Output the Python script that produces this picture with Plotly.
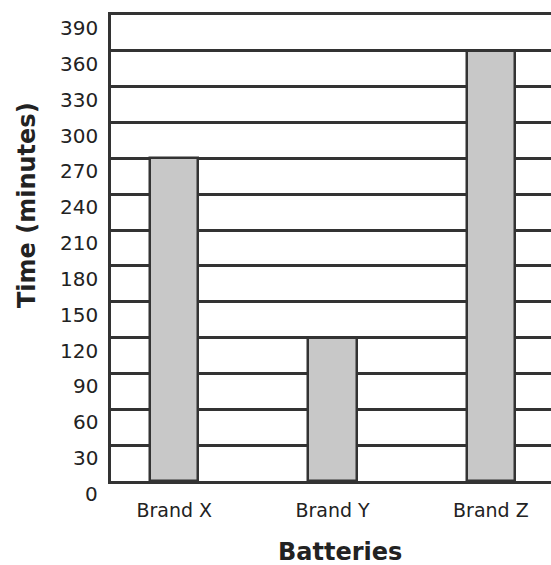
import plotly.graph_objects as go

categories = ["Brand X", "Brand Y", "Brand Z"]
values = [270, 120, 360]
y_ticks = list(range(0, 391, 30))
y_tick_labels = [str(v) for v in y_ticks]

FONT = "DejaVu Sans"
INK = "#222222"
LINE = "#333333"

W, H = 551, 565
ML, MR, MT, MB = 111, 0, 15, 84
pw = W - ML - MR
ph = H - MT - MB

fig = go.Figure()
fig.add_trace(go.Bar(
    x=categories, y=values, width=0.305,
    marker=dict(color="#c8c8c8", line=dict(color=LINE, width=2.5)),
))

ann = []
for v, lab in zip(y_ticks, y_tick_labels):
    ann.append(dict(
        x=0, xref="paper", y=v, yref="y", text=lab, showarrow=False,
        xanchor="right", yanchor="middle", xshift=-11, yshift=-13,
        font=dict(family=FONT, size=20, color=INK),
    ))
ann.append(dict(
    x=(27 - ML) / pw, xref="paper", y=(H - MB - 205) / ph, yref="paper",
    text="<b>Time (minutes)</b>", showarrow=False, textangle=-90,
    xanchor="center", yanchor="middle",
    font=dict(family=FONT, size=24, color=INK),
))
ann.append(dict(
    x=(340 - ML) / pw, xref="paper", y=-(552 - (H - MB)) / ph, yref="paper",
    text="<b>Batteries</b>", showarrow=False,
    xanchor="center", yanchor="middle",
    font=dict(family=FONT, size=24, color=INK),
))

fig.update_layout(
    width=W, height=H,
    margin=dict(l=ML, r=MR, t=MT, b=MB, pad=0),
    paper_bgcolor="white", plot_bgcolor="white",
    showlegend=False,
    bargap=0,
    xaxis=dict(
        range=[-0.4, 2.38], showgrid=False, zeroline=False,
        showline=True, mirror=True, linecolor=LINE, linewidth=2.5,
        ticks="", tickfont=dict(family=FONT, size=19, color=INK),
        ticklabelstandoff=10,
    ),
    yaxis=dict(
        range=[0, 390], tickvals=y_ticks, showticklabels=False,
        showgrid=True, gridcolor=LINE, gridwidth=2.5,
        zeroline=False, showline=True, linecolor=LINE, linewidth=2.5,
        ticks="",
    ),
    annotations=ann,
)

fig.write_html(
    "out.html",
    config={"displayModeBar": False},
    post_script="document.body.style.margin='0';document.body.style.overflow='hidden';",
)
